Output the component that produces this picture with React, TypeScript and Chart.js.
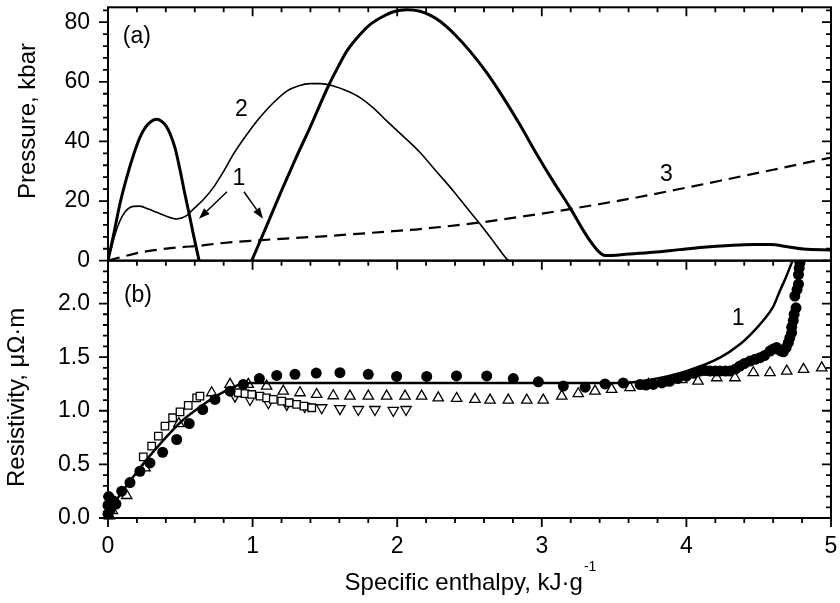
import React, { useEffect, useRef } from 'react';
import { Chart, registerables } from 'chart.js';

Chart.register(...registerables);

type P = [number, number];

// ---------- Panel (a): pressure, kbar ----------
const pressureCurve1a: P[] = [
  [0.0, 0], [0.04, 9], [0.08, 18.5], [0.13, 28], [0.18, 36], [0.22, 41.3], [0.26, 44.8],
  [0.3, 46.8], [0.337, 47.4], [0.37, 46.8], [0.4, 45.3], [0.43, 42.5], [0.463, 37.9],
  [0.5, 30], [0.532, 22.3], [0.56, 16], [0.59, 8.9], [0.63, 0],
];
const pressureCurve1b: P[] = [
  [0.994, 0], [1.1, 12], [1.2, 23.5], [1.3, 34.5], [1.4, 45], [1.524, 58.6], [1.6, 65.8],
  [1.651, 70.3], [1.743, 75.9], [1.82, 79.5], [1.904, 82], [1.98, 83.6], [2.066, 84.2],
  [2.158, 83.7], [2.23, 82.3], [2.296, 80.3], [2.4, 75.8], [2.503, 70.3], [2.62, 63],
  [2.734, 54.7], [2.85, 45.5], [2.965, 35.7], [3.08, 26.5], [3.195, 17.8], [3.27, 11.5],
  [3.333, 6.7], [3.39, 3.2], [3.437, 1.7], [3.6, 2.2], [3.771, 2.8], [3.95, 3.7],
  [4.117, 4.5], [4.3, 5.1], [4.463, 5.4], [4.578, 5.4], [4.7, 4.7], [4.81, 3.9], [5.0, 3.6],
];
const pressureCurve2: P[] = [
  [0.0, 0], [0.025, 4.5], [0.05, 9], [0.083, 13.4], [0.12, 16.5], [0.175, 18.2], [0.22, 18.3],
  [0.28, 17.3], [0.337, 16.2], [0.4, 15], [0.475, 14.0], [0.544, 15.1], [0.59, 17.3],
  [0.66, 20.5], [0.728, 24.5], [0.8, 30], [0.867, 35.7], [0.96, 42.3], [1.05, 48],
  [1.14, 52.8], [1.236, 56.9], [1.32, 58.7], [1.397, 59.4], [1.47, 59.4], [1.558, 58.6],
  [1.65, 57], [1.743, 54.7], [1.84, 51], [1.927, 46.9], [2.04, 41.8], [2.158, 36.3],
  [2.27, 30], [2.388, 23.4], [2.48, 17.8], [2.573, 12.3], [2.66, 6.8], [2.757, 0.6], [2.77, 0],
];
const pressureCurve3: P[] = [
  [0, 0], [0.083, 1.1], [0.25, 3.0], [0.5, 4.5], [0.636, 5.0], [0.75, 5.7], [1.0, 6.7],
  [1.558, 8.4], [2.0, 10.0], [2.158, 10.6], [2.573, 12.8], [3.0, 15.8], [3.195, 17.3],
  [3.656, 21.2], [4.0, 24.5], [4.232, 26.8], [4.6, 30.5], [5.0, 34.6],
];

// ---------- Panel (b): resistivity, μΩ·m ----------
const resistivityCurve1: P[] = [
  [0, 0.06], [0.05, 0.15], [0.1, 0.25], [0.15, 0.34], [0.2, 0.43], [0.267, 0.545],
  [0.35, 0.675], [0.42, 0.78], [0.498, 0.888], [0.58, 0.98], [0.65, 1.05], [0.728, 1.12],
  [0.82, 1.19], [0.913, 1.246], [0.98, 1.26], [1.5, 1.26], [2.0, 1.26], [2.5, 1.26],
  [3.0, 1.26], [3.54, 1.26], [3.75, 1.29], [4.0, 1.37], [4.232, 1.495], [4.37, 1.62],
  [4.45, 1.72], [4.53, 1.84], [4.6, 1.97], [4.647, 2.12], [4.69, 2.25], [4.74, 2.42],
];
const filledCircles: P[] = [
  [0, 0.04], [0.0, 0.12], [0.005, 0.2], [0.02, 0.09], [0.035, 0.16], [0.055, 0.13],
  [0.095, 0.25], [0.152, 0.33], [0.221, 0.436], [0.29, 0.514], [0.378, 0.613], [0.475, 0.732],
  [0.562, 0.881], [0.655, 1.012], [0.74, 1.106], [0.844, 1.183], [0.936, 1.246], [1.047, 1.3],
  [1.167, 1.33], [1.293, 1.34], [1.44, 1.352], [1.604, 1.355], [1.8, 1.34], [1.996, 1.32],
  [2.204, 1.32], [2.41, 1.325], [2.619, 1.325], [2.803, 1.3], [2.976, 1.27], [3.149, 1.23],
  [3.3, 1.22], [3.437, 1.25], [3.563, 1.26], [3.68, 1.245], [3.72, 1.24], [3.771, 1.246],
  [3.83, 1.26], [3.887, 1.277], [3.94, 1.3], [4.0, 1.323], [4.05, 1.35], [4.094, 1.37],
  [4.13, 1.375], [4.163, 1.37], [4.2, 1.37], [4.232, 1.37], [4.27, 1.37], [4.302, 1.37],
  [4.34, 1.39], [4.37, 1.417], [4.4, 1.44], [4.44, 1.464], [4.475, 1.48], [4.509, 1.495],
  [4.54, 1.515], [4.578, 1.557], [4.6, 1.575], [4.624, 1.589], [4.65, 1.56], [4.67, 1.55],
  [4.69, 1.59], [4.705, 1.635], [4.715, 1.68], [4.728, 1.729], [4.728, 1.78], [4.739, 1.84],
  [4.745, 1.9], [4.758, 1.96], [4.75, 2.07], [4.765, 2.13], [4.775, 2.18], [4.775, 2.27],
  [4.78, 2.33], [4.785, 2.38],
];
const openUpTriangles: P[] = [
  [0.01, 0.02], [0.03, 0.07], [0.129, 0.21], [0.256, 0.467], [0.49, 0.88], [0.717, 1.168],
  [0.844, 1.246], [0.97, 1.246], [1.097, 1.23], [1.212, 1.183], [1.328, 1.168], [1.443, 1.152],
  [1.558, 1.14], [1.673, 1.137], [1.8, 1.137], [1.927, 1.137], [2.054, 1.137], [2.169, 1.137],
  [2.284, 1.12], [2.411, 1.115], [2.538, 1.106], [2.642, 1.1], [2.768, 1.1], [2.896, 1.1],
  [3.01, 1.1], [3.138, 1.137], [3.252, 1.159], [3.368, 1.183], [3.483, 1.2], [3.61, 1.215],
  [3.737, 1.246], [3.85, 1.26], [3.968, 1.29], [4.08, 1.277], [4.21, 1.308], [4.336, 1.308],
  [4.463, 1.355], [4.578, 1.355], [4.694, 1.37], [4.81, 1.386], [4.936, 1.4],
];
const openDownTriangles: P[] = [
  [0.878, 1.136], [0.982, 1.105], [1.109, 1.075], [1.236, 1.059], [1.36, 1.04], [1.478, 1.028],
  [1.604, 1.02], [1.731, 1.012], [1.846, 1.012], [1.973, 1.003], [2.061, 1.012],
];
const openSquares: P[] = [
  [0.005, 0.03], [0.244, 0.57], [0.302, 0.67], [0.348, 0.763], [0.394, 0.856], [0.447, 0.935],
  [0.498, 0.99], [0.555, 1.05], [0.613, 1.12], [0.636, 1.137], [0.901, 1.168], [0.947, 1.16],
  [0.994, 1.152], [1.051, 1.136], [1.097, 1.121], [1.143, 1.106], [1.201, 1.09], [1.254, 1.075],
  [1.305, 1.059], [1.355, 1.043], [1.409, 1.028],
];

// ---------- Axes ----------
const xTickValues = [0, 1, 2, 3, 4, 5];
const xTickLabels = ['0', '1', '2', '3', '4', '5'];
const pressureTickValues = [0, 20, 40, 60, 80];
const pressureTickLabels = ['0', '20', '40', '60', '80'];
const resistivityTickValues = [0, 0.5, 1, 1.5, 2];
const resistivityTickLabels = ['0.0', '0.5', '1.0', '1.5', '2.0'];
const xMinorPerMajor = 5;
const pressureMinorPerMajor = 5;
const resistivityMinorPerMajor = 5;

const xTitle = 'Specific enthalpy, kJ·g';
const xTitleSup = '-1';
const pressureTitle = 'Pressure, kbar';
const resistivityTitle = 'Resistivity, μΩ·m';

// annotations in data coordinates
const labelTexts = ['(a)', '2', '1', '3', '(b)', '1'];
const labelX = [0.2, 0.923, 0.906, 3.862, 0.207, 4.357];
const labelY = [75, 50.7, 27.4, 29.0, 2.07, 1.855];
const labelAxis = ['yP', 'yP', 'yP', 'yP', 'yR', 'yR'];
const arrowFromX = [0.823, 0.94];
const arrowFromY = [23.1, 23.1];
const arrowToX = [0.629, 1.072];
const arrowToY = [14.1, 14.1];

const FONT = "'Liberation Sans', Arial, Helvetica, sans-serif";
const toXY = (a: P[]) => a.map(([x, y]) => ({ x, y }));

function drawTicks(chart: any) {
  const ctx: CanvasRenderingContext2D = chart.ctx;
  const xs = chart.scales.x;
  const yP = chart.scales.yP;
  const yR = chart.scales.yR;
  ctx.save();
  ctx.strokeStyle = '#000';
  ctx.lineWidth = 2;
  ctx.strokeRect(xs.left, yP.top, xs.right - xs.left, yP.bottom - yP.top);
  ctx.strokeRect(xs.left, yR.top, xs.right - xs.left, yR.bottom - yR.top);

  ctx.lineWidth = 1.8;
  ctx.beginPath();
  const xStep = (xTickValues[1] - xTickValues[0]) / xMinorPerMajor;
  const nX = Math.round((xTickValues[xTickValues.length - 1] - xTickValues[0]) / xStep);
  const edges = [yP.top, yP.bottom, yR.bottom];
  for (let i = 0; i <= nX; i++) {
    const v = xTickValues[0] + i * xStep;
    const px = xs.getPixelForValue(v);
    const len = i % xMinorPerMajor === 0 ? 9 : 5;
    for (const e of edges) {
      ctx.moveTo(px, e);
      ctx.lineTo(px, e + len);
    }
  }
  const yTicks = (s: any, vals: number[], per: number) => {
    const step = (vals[1] - vals[0]) / per;
    for (let i = 0; ; i++) {
      const v = i * step;
      if (v > s.max + 1e-9) break;
      const py = s.getPixelForValue(v);
      const len = i % per === 0 ? 9 : 5;
      for (const ex of [xs.left, xs.right]) {
        ctx.moveTo(ex, py);
        ctx.lineTo(ex - len, py);
      }
    }
  };
  yTicks(yP, pressureTickValues, pressureMinorPerMajor);
  yTicks(yR, resistivityTickValues, resistivityMinorPerMajor);
  ctx.stroke();

  ctx.fillStyle = '#000';
  ctx.font = `23px ${FONT}`;
  ctx.textAlign = 'center';
  ctx.textBaseline = 'middle';
  // x tick labels
  xTickValues.forEach((v, i) => {
    ctx.fillText(xTickLabels[i], xs.getPixelForValue(v), yR.bottom + 29);
  });
  // annotations
  labelTexts.forEach((t, i) => {
    const s = chart.scales[labelAxis[i]];
    ctx.fillText(t, xs.getPixelForValue(labelX[i]), s.getPixelForValue(labelY[i]));
  });
  ctx.lineWidth = 1.5;
  arrowFromX.forEach((_, i) => {
    const x1 = xs.getPixelForValue(arrowFromX[i]);
    const y1 = yP.getPixelForValue(arrowFromY[i]);
    const x2 = xs.getPixelForValue(arrowToX[i]);
    const y2 = yP.getPixelForValue(arrowToY[i]);
    const ang = Math.atan2(y2 - y1, x2 - x1);
    const hl = 11;
    const hw = 4;
    const bx = x2 - hl * Math.cos(ang);
    const by = y2 - hl * Math.sin(ang);
    ctx.beginPath();
    ctx.moveTo(x1, y1);
    ctx.lineTo(bx, by);
    ctx.stroke();
    ctx.beginPath();
    ctx.moveTo(x2, y2);
    ctx.lineTo(bx + hw * Math.sin(ang), by - hw * Math.cos(ang));
    ctx.lineTo(bx - hw * Math.sin(ang), by + hw * Math.cos(ang));
    ctx.closePath();
    ctx.fill();
  });

  ctx.font = `24px ${FONT}`;
  ctx.textBaseline = 'alphabetic';
  ctx.textAlign = 'center';
  const rot = (t: string, x: number, y: number) => {
    ctx.save();
    ctx.translate(x, y);
    ctx.rotate(-Math.PI / 2);
    ctx.fillText(t, 0, 0);
    ctx.restore();
  };
  rot(pressureTitle, 35, (yP.top + yP.bottom) / 2 - 13);
  rot(resistivityTitle, 24, (yR.top + yR.bottom) / 2 + 8);

  ctx.textAlign = 'left';
  const w1 = ctx.measureText(xTitle).width;
  ctx.font = `14px ${FONT}`;
  const w2 = ctx.measureText(xTitleSup).width;
  const cx = (xs.left + xs.right) / 2 + 1;
  const sx = cx - (w1 + w2 + 1) / 2;
  const base = 590;
  ctx.font = `24px ${FONT}`;
  ctx.fillText(xTitle, sx, base);
  ctx.font = `14px ${FONT}`;
  ctx.fillText(xTitleSup, sx + w1 + 1, base - 19);
  ctx.restore();
}

const framePlugin = {
  id: 'frameTicks',
  afterDatasetsDraw(chart: any) {
    drawTicks(chart);
  },
};

const noPad = (s: any) => {
  s.paddingLeft = 0;
  s.paddingRight = 0;
  s.paddingTop = 0;
  s.paddingBottom = 0;
};

export default function App() {
  const ref = useRef<HTMLCanvasElement | null>(null);
  useEffect(() => {
    if (!ref.current) return;
    const tickFont = { family: FONT, size: 23 };
    const markerClip = { left: 8, right: 8, top: 0, bottom: 8 };
    const chart = new Chart(ref.current, {
      type: 'scatter',
      data: {
        datasets: [
          {
            label: 'ρ calc 1',
            data: toXY(resistivityCurve1),
            yAxisID: 'yR',
            showLine: true,
            borderColor: '#000',
            borderWidth: 2.5,
            pointRadius: 0,
            cubicInterpolationMode: 'monotone',
            clip: { left: 2, right: 2, top: 0, bottom: 2 },
          },
          {
            label: 'filled circles',
            data: toXY(filledCircles),
            yAxisID: 'yR',
            pointStyle: 'circle',
            pointRadius: 5.5,
            backgroundColor: '#000',
            borderColor: '#000',
            borderWidth: 0,
            clip: markerClip,
          },
          {
            label: 'open squares',
            data: toXY(openSquares),
            yAxisID: 'yR',
            pointStyle: 'rect',
            pointRadius: 5.3,
            backgroundColor: '#fff',
            borderColor: '#000',
            borderWidth: 1.3,
            clip: markerClip,
          },
          {
            label: 'open down triangles',
            data: toXY(openDownTriangles),
            yAxisID: 'yR',
            pointStyle: 'triangle',
            rotation: 180,
            pointRadius: 6,
            backgroundColor: '#fff',
            borderColor: '#000',
            borderWidth: 1.3,
            clip: markerClip,
          },
          {
            label: 'open up triangles',
            data: toXY(openUpTriangles),
            yAxisID: 'yR',
            pointStyle: 'triangle',
            pointRadius: 6,
            backgroundColor: '#fff',
            borderColor: '#000',
            borderWidth: 1.3,
            clip: markerClip,
          },
          {
            label: 'P 1a',
            data: toXY(pressureCurve1a),
            yAxisID: 'yP',
            showLine: true,
            borderColor: '#000',
            borderWidth: 3,
            pointRadius: 0,
            cubicInterpolationMode: 'monotone',
          },
          {
            label: 'P 1b',
            data: toXY(pressureCurve1b),
            yAxisID: 'yP',
            showLine: true,
            borderColor: '#000',
            borderWidth: 3,
            pointRadius: 0,
            cubicInterpolationMode: 'monotone',
          },
          {
            label: 'P 2',
            data: toXY(pressureCurve2),
            yAxisID: 'yP',
            showLine: true,
            borderColor: '#000',
            borderWidth: 1.6,
            pointRadius: 0,
            cubicInterpolationMode: 'monotone',
          },
          {
            label: 'P 3',
            data: toXY(pressureCurve3),
            yAxisID: 'yP',
            showLine: true,
            borderColor: '#000',
            borderWidth: 2.2,
            borderDash: [12, 7],
            pointRadius: 0,
            cubicInterpolationMode: 'monotone',
          },
        ],
      } as any,
      options: {
        animation: false,
        responsive: false,
        devicePixelRatio: 1,
        layout: { padding: { left: 0, top: 6, right: 9, bottom: 0 } },
        plugins: { legend: { display: false }, tooltip: { enabled: false } },
        scales: {
          x: {
            type: 'linear',
            position: 'bottom',
            min: 0,
            max: 5,
            grid: { display: false, drawTicks: false },
            border: { display: false },
            afterBuildTicks: (s: any) => {
              s.ticks = xTickValues.map((v) => ({ value: v }));
            },
            ticks: { display: false },
            afterFit: (s: any) => {
              s.height = 85;
              noPad(s);
            },
          },
          yR: {
            type: 'linear',
            position: 'left',
            stack: 'panels',
            stackWeight: 258,
            min: 0,
            max: 2.4,
            grid: { display: false, drawTicks: false },
            border: { display: false },
            afterBuildTicks: (s: any) => {
              s.ticks = resistivityTickValues.map((v) => ({ value: v }));
            },
            ticks: {
              padding: 18,
              color: '#000',
              font: tickFont,
              callback: (_v: any, i: number) => resistivityTickLabels[i],
            },
            afterFit: (s: any) => {
              s.width = 108;
              noPad(s);
            },
          },
          yP: {
            type: 'linear',
            position: 'left',
            stack: 'panels',
            stackWeight: 254,
            min: 0,
            max: 85,
            grid: { display: false, drawTicks: false },
            border: { display: false },
            afterBuildTicks: (s: any) => {
              s.ticks = pressureTickValues.map((v) => ({ value: v }));
            },
            ticks: {
              padding: 18,
              color: '#000',
              font: tickFont,
              callback: (_v: any, i: number) => pressureTickLabels[i],
            },
            afterFit: (s: any) => {
              s.width = 108;
              noPad(s);
            },
          },
        },
      } as any,
      plugins: [framePlugin],
    });
    return () => chart.destroy();
  }, []);

  return (
    <div style={{ position: 'absolute', left: 0, top: 0, width: 840, height: 603, background: '#fff' }}>
      <canvas ref={ref} width={840} height={603} style={{ display: 'block' }} />
    </div>
  );
}
